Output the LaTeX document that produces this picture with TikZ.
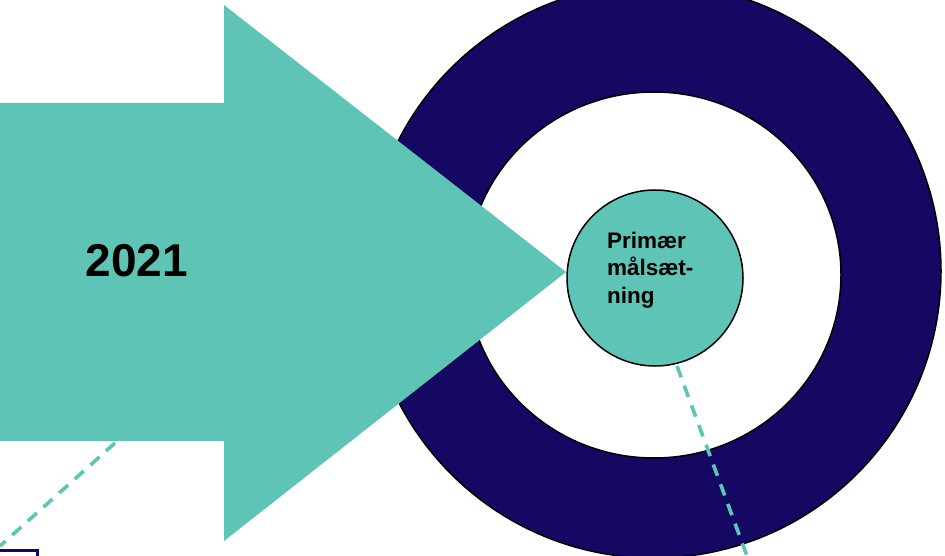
\documentclass[tikz,border=0pt]{standalone}
\usepackage{fontspec}
\setmainfont{Liberation Sans}
\definecolor{teal1}{HTML}{5EC4B6}
\definecolor{navy1}{HTML}{140862}
\begin{document}
\begin{tikzpicture}[x=1pt,y=-1pt,
  ring/.style={draw=black,line width=1.5pt},
  dashline/.style={draw=teal1,line width=3.6pt,dash pattern=on 12pt off 9pt}]
\useasboundingbox (0,0) rectangle (945,556);
% outer ring
\fill[navy1] (654,271) circle (287);
\draw[ring] (654,271) circle (287);
\fill[white] (654,275) ellipse (187 and 183);
\draw[ring] (654,275) ellipse (187 and 183);
% arrow
\fill[teal1] (0,103) -- (224,103) -- (224,5) -- (566,272) -- (224,541) -- (224,441) -- (0,441) -- cycle;
\node[font=\bfseries\fontsize{46}{52}\selectfont,inner sep=0pt] (yr) at (137,261) {2021};
% inner circle
\node[circle,draw=black,line width=1.5pt,fill=teal1,minimum size=176pt,inner sep=0pt] (goal) at (655,278) {};
\node[align=left,anchor=west,font=\bfseries\fontsize{22.5}{27.5}\selectfont,inner sep=0pt] (gt) at (607,270) {Primær\\målsæt-\\ning};
% dashed connectors
\coordinate (a1) at (115,443);
\coordinate (a2) at (0,546);
\draw[dashline] (a1) -- (a2);
\coordinate (b1) at (677,366);
\coordinate (b2) at (747,556);
\draw[dashline] (b1) -- (b2);
% small box bottom-left
\node[draw=navy1,line width=2.6pt,fill=white,minimum width=60pt,minimum height=30pt,anchor=north east,inner sep=0pt] (box) at (39,549) {};
\end{tikzpicture}
\end{document}
